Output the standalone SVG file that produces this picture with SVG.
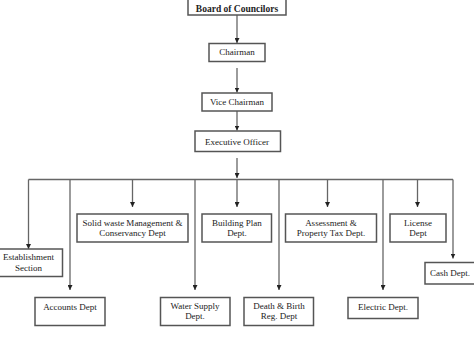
<svg xmlns="http://www.w3.org/2000/svg" width="474" height="347" viewBox="0 0 474 347">
<defs>
<style>
.box{fill:#fff;stroke:#555;stroke-width:1.5}
.t{font-family:"Liberation Serif","Times New Roman",serif;font-size:9px;fill:#222;text-anchor:middle}
.b{font-weight:bold;font-size:9.5px}
.ln{fill:none;stroke:#666;stroke-width:1.3}
</style>
<marker id="ah" viewBox="0 0 6 6" refX="3" refY="6" markerWidth="4.5" markerHeight="4.5" markerUnits="userSpaceOnUse" orient="auto-start-reverse">
<path d="M0,0 L6,0 L3,6 Z" fill="#222" transform="rotate(-90 3 3)"/>
</marker>
<marker id="dn" viewBox="0 0 6 6" refX="3" refY="6" markerWidth="5" markerHeight="5" markerUnits="userSpaceOnUse">
<path d="M0,0 L6,0 L3,6 Z" fill="#222"/>
</marker>
</defs>
<rect width="474" height="347" fill="#fff"/>
<g id="connectors">
<line class="ln" x1="237" y1="15" x2="237" y2="43" marker-end="url(#dn)"/>
<line class="ln" x1="237" y1="68" x2="237" y2="92.5" marker-end="url(#dn)"/>
<line class="ln" x1="237" y1="111" x2="237" y2="130.5" marker-end="url(#dn)"/>
<line class="ln" x1="237" y1="158" x2="237" y2="178" marker-end="url(#dn)"/>
<line class="ln" x1="28.5" y1="179.5" x2="453" y2="179.5"/>
<line class="ln" x1="28.5" y1="179.5" x2="28.5" y2="249" marker-end="url(#dn)"/>
<line class="ln" x1="70" y1="179.5" x2="70" y2="290" marker-end="url(#dn)"/>
<line class="ln" x1="132.5" y1="179.5" x2="132.5" y2="207" marker-end="url(#dn)"/>
<line class="ln" x1="195" y1="179.5" x2="195" y2="290" marker-end="url(#dn)"/>
<line class="ln" x1="237" y1="179.5" x2="237" y2="207" marker-end="url(#dn)"/>
<line class="ln" x1="279" y1="179.5" x2="279" y2="290" marker-end="url(#dn)"/>
<line class="ln" x1="327.5" y1="179.5" x2="327.5" y2="207" marker-end="url(#dn)"/>
<line class="ln" x1="383" y1="179.5" x2="383" y2="290" marker-end="url(#dn)"/>
<line class="ln" x1="417.5" y1="179.5" x2="417.5" y2="207" marker-end="url(#dn)"/>
<line class="ln" x1="453" y1="179.5" x2="453" y2="258.5" marker-end="url(#dn)"/>
</g>
<g id="board"><rect class="box" x="188" y="-2" width="98" height="17"/><text class="t b" x="237" y="11.5">Board of Councilors</text></g>
<g id="chairman"><rect class="box" x="209" y="43.5" width="56" height="18"/><text class="t" x="237" y="55">Chairman</text></g>
<g id="vice"><rect class="box" x="202" y="93" width="70" height="18"/><text class="t" x="237" y="104.5">Vice Chairman</text></g>
<g id="exec"><rect class="box" x="195" y="131" width="85.5" height="20.5"/><text class="t" x="237" y="144.5">Executive Officer</text></g>
<g id="establishment"><rect class="box" x="-2" y="249" width="64.5" height="27.5"/><text class="t" x="28.5" y="260">Establishment</text><text class="t" x="28.5" y="270.5">Section</text></g>
<g id="accounts"><rect class="box" x="35" y="297.5" width="70" height="28"/><text class="t" x="70" y="310">Accounts Dept</text></g>
<g id="solidwaste"><rect class="box" x="77" y="214" width="111" height="28"/><text class="t" x="132.5" y="225.5">Solid waste Management &amp;</text><text class="t" x="132.5" y="236">Conservancy Dept</text></g>
<g id="water"><rect class="box" x="160.5" y="297.5" width="69.5" height="28"/><text class="t" x="195" y="308.5">Water Supply</text><text class="t" x="195" y="319">Dept.</text></g>
<g id="building"><rect class="box" x="202" y="214" width="69.5" height="28"/><text class="t" x="237" y="225.5">Building Plan</text><text class="t" x="237" y="236">Dept.</text></g>
<g id="deathbirth"><rect class="box" x="244" y="297.5" width="69.5" height="28"/><text class="t" x="279" y="308.5">Death &amp; Birth</text><text class="t" x="279" y="319">Reg. Dept</text></g>
<g id="assessment"><rect class="box" x="285.5" y="214" width="91" height="28"/><text class="t" x="331" y="225.5">Assessment &amp;</text><text class="t" x="331" y="236">Property Tax Dept.</text></g>
<g id="electric"><rect class="box" x="348" y="297.5" width="70" height="21"/><text class="t" x="383" y="310">Electric Dept.</text></g>
<g id="license"><rect class="box" x="390" y="214" width="56" height="28"/><text class="t" x="418" y="225.5">License</text><text class="t" x="418" y="236">Dept</text></g>
<g id="cash"><rect class="box" x="425" y="262.5" width="52" height="21.5"/><text class="t" x="450" y="276">Cash Dept.</text></g>
</svg>
